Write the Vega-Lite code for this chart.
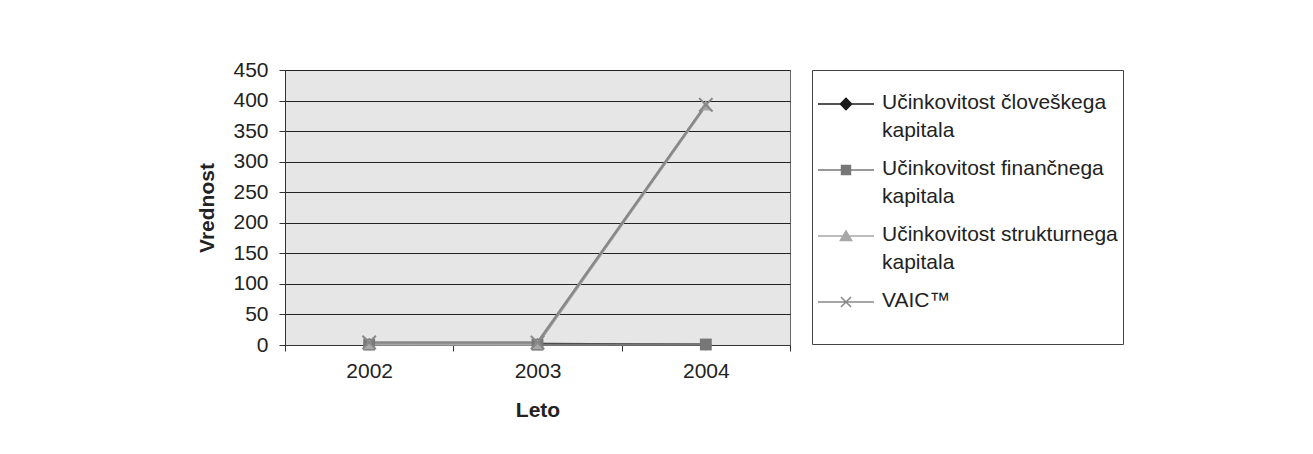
{
  "$schema": "https://vega.github.io/schema/vega-lite/v6.json",
  "width": 505,
  "height": 275,
  "autosize": {"type": "none"},
  "padding": {"left": 285, "top": 70, "right": 523, "bottom": 109},
  "background": "white",
  "config": {
    "font": "Liberation Sans",
    "view": {"fill": "#e6e6e6", "stroke": "#666666", "strokeWidth": 1}
  },
  "data": {
    "values": [
      {"leto": 2002, "serija": "Učinkovitost človeškega kapitala", "vrednost": 1.8},
      {"leto": 2003, "serija": "Učinkovitost človeškega kapitala", "vrednost": 1.7},
      {"leto": 2004, "serija": "Učinkovitost človeškega kapitala", "vrednost": 0.3},
      {"leto": 2002, "serija": "Učinkovitost finančnega kapitala", "vrednost": 0.6},
      {"leto": 2003, "serija": "Učinkovitost finančnega kapitala", "vrednost": 0.5},
      {"leto": 2004, "serija": "Učinkovitost finančnega kapitala", "vrednost": 0.8},
      {"leto": 2002, "serija": "Učinkovitost strukturnega kapitala", "vrednost": 1.5},
      {"leto": 2003, "serija": "Učinkovitost strukturnega kapitala", "vrednost": 1.4},
      {"leto": 2004, "serija": "Učinkovitost strukturnega kapitala", "vrednost": 392},
      {"leto": 2002, "serija": "VAIC™", "vrednost": 4.2},
      {"leto": 2003, "serija": "VAIC™", "vrednost": 4.0},
      {"leto": 2004, "serija": "VAIC™", "vrednost": 393}
    ]
  },
  "encoding": {
    "x": {
      "field": "leto",
      "type": "quantitative",
      "scale": {"domain": [2001.5, 2004.5], "nice": false, "zero": false},
      "axis": {
        "title": "Leto",
        "titleFontSize": 21,
        "titleFontWeight": "bold",
        "titleColor": "#222222",
        "titlePadding": 18,
        "values": [2001.5, 2002, 2002.5, 2003, 2003.5, 2004, 2004.5],
        "labelExpr": "datum.value % 1 == 0 ? format(datum.value, 'd') : ''",
        "labelFontSize": 21,
        "labelColor": "#222222",
        "labelPadding": 9,
        "tickColor": "#333333",
        "tickOpacity": {"condition": {"test": "datum.value % 1 == 0", "value": 0}, "value": 1},
        "tickSize": 6,
        "domainColor": "#333333",
        "grid": false
      }
    },
    "y": {
      "field": "vrednost",
      "type": "quantitative",
      "scale": {"domain": [0, 450], "nice": false},
      "axis": {
        "title": "Vrednost",
        "titleFontSize": 21,
        "titleFontWeight": "bold",
        "titleColor": "#222222",
        "titlePadding": 15,
        "values": [0, 50, 100, 150, 200, 250, 300, 350, 400, 450],
        "labelFontSize": 21,
        "labelColor": "#222222",
        "labelPadding": 11,
        "tickColor": "#333333",
        "tickSize": 6,
        "domainColor": "#333333",
        "grid": true,
        "gridColor": "#222222",
        "gridWidth": 1
      }
    }
  },
  "layer": [
    {
      "mark": {"type": "line", "strokeWidth": 2.5},
      "encoding": {
        "color": {
          "field": "serija",
          "type": "nominal",
          "scale": {
            "domain": ["Učinkovitost človeškega kapitala", "Učinkovitost finančnega kapitala", "Učinkovitost strukturnega kapitala", "VAIC™"],
            "range": ["#1a1a1a", "#777777", "#a8a8a8", "#888888"]
          },
          "legend": {
            "title": null,
            "orient": "right",
            "offset": 22,
            "padding": 5,
            "strokeColor": "#444444",
            "fillColor": "white",
            "labelFontSize": 21,
            "labelColor": "#222222",
            "labelLimit": 400,
            "labelOffset": 7,
            "labelBaseline": "top",
            "symbolSize": 3136,
            "symbolStrokeWidth": 1.5,
            "rowPadding": 0,
            "labelExpr": "indexof(datum.label, ' kapitala') > 0 ? [replace(datum.label, ' kapitala', ''), 'kapitala'] : [datum.label, ' ']",
            "encode": {
              "symbols": {
                "update": {
                  "shape": {"signal": "datum.value == 'VAIC™' ? 'M-1,0H1M-0.18,-0.18L0.18,0.18M0.18,-0.18L-0.18,0.18' : datum.value == 'Učinkovitost človeškega kapitala' ? 'M-1,0H1M0,-0.2L0.2,0L0,0.2L-0.2,0Z' : datum.value == 'Učinkovitost finančnega kapitala' ? 'M-1,0H1M-0.16,-0.16H0.16V0.16H-0.16Z' : 'M-1,0H1M0,-0.18L0.2,0.16H-0.2Z'"},
                  "fill": {"signal": "scale('color', datum.value)"},
                  "strokeWidth": {"value": 1.5}
                }
              },
              "labels": {
                "update": {
                  "dy": {"value": -12},
                  "lineHeight": {"value": 28}
                }
              }
            }
          }
        }
      }
    },
    {
      "transform": [{"filter": "datum.serija == 'Učinkovitost človeškega kapitala'"}],
      "mark": {"type": "point", "shape": "diamond", "filled": true, "size": 130, "color": "#1a1a1a", "opacity": 1}
    },
    {
      "transform": [{"filter": "datum.serija == 'Učinkovitost finančnega kapitala'"}],
      "mark": {"type": "point", "shape": "square", "filled": true, "size": 140, "color": "#777777", "opacity": 1}
    },
    {
      "transform": [{"filter": "datum.serija == 'Učinkovitost strukturnega kapitala'"}],
      "mark": {"type": "point", "shape": "triangle-up", "filled": true, "size": 140, "color": "#a8a8a8", "opacity": 1}
    },
    {
      "transform": [{"filter": "datum.serija == 'VAIC™'"}],
      "mark": {"type": "point", "shape": "M-1,-1L1,1M1,-1L-1,1", "filled": false, "size": 180, "strokeWidth": 2, "color": "#888888", "opacity": 1}
    }
  ]
}
